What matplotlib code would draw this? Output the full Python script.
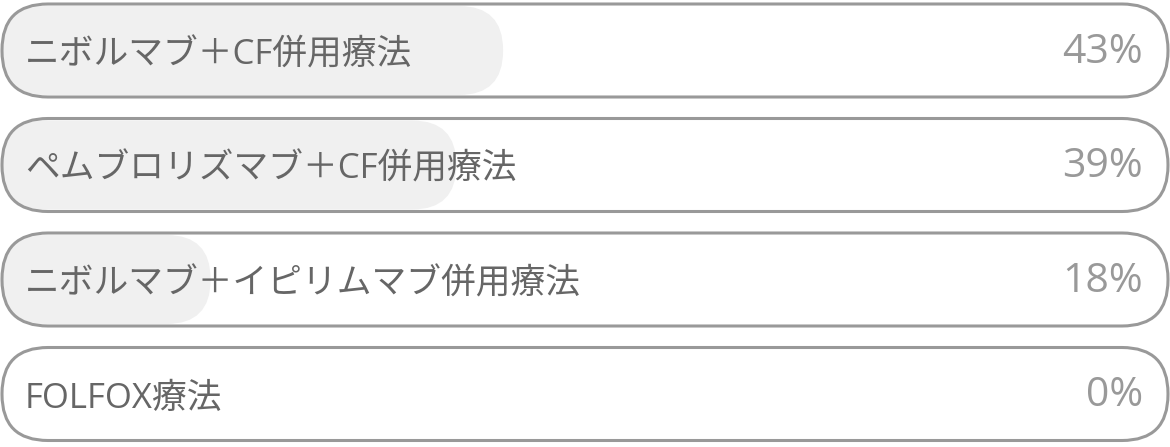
import matplotlib
matplotlib.use("Agg")
import matplotlib.pyplot as plt
from matplotlib.patches import FancyBboxPatch

labels = ["ニボルマブ＋CF併用療法", "ペムブロリズマブ＋CF併用療法",
          "ニボルマブ＋イピリムマブ併用療法", "FOLFOX療法"]
values = [43, 39, 18, 0]

W, H = 1170, 447
fonts = ["Open Sans", "Noto Sans CJK JP", "DejaVu Sans"]

fig = plt.figure(figsize=(W / 100, H / 100), dpi=100)
ax = fig.add_axes([0, 0, 1, 1])
ax.set_xlim(0, W)
ax.set_ylim(H, 0)
ax.axis("off")

rowH = 93
step = 114.5
top0 = 4
for i, (lab, v) in enumerate(zip(labels, values)):
    y = top0 + i * step
    # filled part
    if v > 0:
        fw = W * v / 100
        ax.add_patch(FancyBboxPatch((2, y + 2), fw - 2, rowH - 4,
                                    boxstyle="round,pad=0,rounding_size=44",
                                    fc="#f0f0f0", ec="none", zorder=1))
    # outline
    ax.add_patch(FancyBboxPatch((2, y), W - 4, rowH,
                                boxstyle="round,pad=0,rounding_size=46",
                                fc="none", ec="#999999", lw=2.2, zorder=2))
    cy = y + rowH / 2
    ax.text(25, cy + 5, lab, family=fonts, fontsize=25, color="#666666",
            ha="left", va="center", zorder=3)
    ax.text(1143, cy + 2, f"{v}%", family=fonts, fontsize=29.5, color="#999999",
            ha="right", va="center", zorder=3)

fig.savefig("out.png", dpi=100)
